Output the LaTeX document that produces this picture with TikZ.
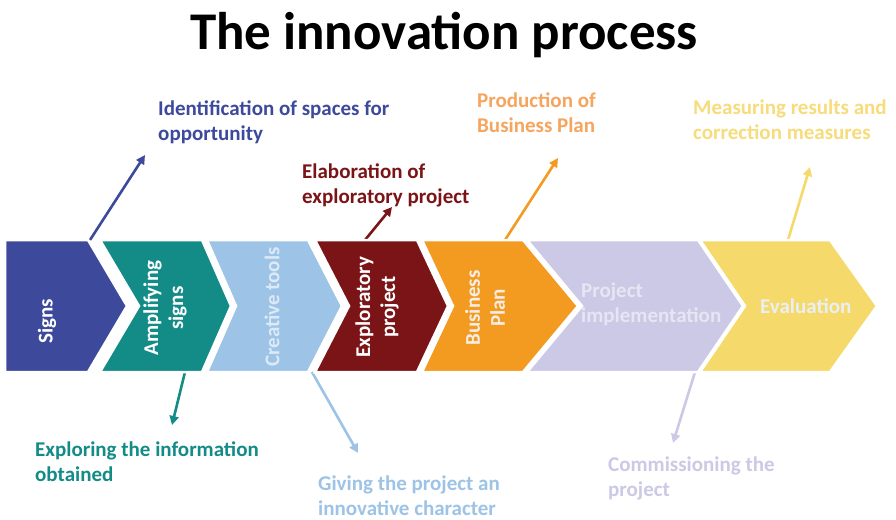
\documentclass[tikz,border=0pt]{standalone}
\usepackage{fontspec}
\setmainfont{Carlito}
\usetikzlibrary{arrows.meta}
\definecolor{cSigns}{HTML}{3D4A9C}
\definecolor{cAmp}{HTML}{138B87}
\definecolor{cCre}{HTML}{9DC3E6}
\definecolor{cExp}{HTML}{7B1416}
\definecolor{cBus}{HTML}{F39A21}
\definecolor{cImp}{HTML}{CBC9E5}
\definecolor{cEva}{HTML}{F5DA6B}
\definecolor{tBus}{HTML}{F5A55E}
\definecolor{tEva}{HTML}{F7DC7C}
\definecolor{tCre}{HTML}{DCE9F6}
\definecolor{tBusIn}{HTML}{F6EDE4}
\definecolor{tImp}{HTML}{E4E7F3}
\definecolor{tEvaIn}{HTML}{EAEFF3}
\newcommand\mychev[5]{%
  \fill[#1, draw=white, line width=2.5pt, line join=miter]
    (#2,240) -- (#3,240) -- (#4,306) -- (#3,372) -- (#2,372) -- (#5,306) -- cycle;}
\tikzset{
  lbl/.style={font=\fontsize{21}{25}\selectfont\bfseries, align=left, inner sep=0pt, anchor=base west},
  vtxt/.style={font=\fontsize{21}{25}\selectfont\bfseries, align=center, rotate=90, inner sep=0pt},
  htxt/.style={font=\fontsize{21}{25}\selectfont\bfseries, align=left, inner sep=0pt, anchor=base west},
  arr/.style={line width=2.6pt, -{Triangle[length=9pt,width=9pt]}}
}
\begin{document}
\begin{tikzpicture}[x=1pt,y=-1pt]
\useasboundingbox (0,0) rectangle (896,519);
\fill[white] (0,0) rectangle (896,519);
% title
\node[font=\fontsize{53}{60}\selectfont\bfseries, anchor=base, inner sep=0pt] (title) at (444,50) {The innovation process};
% arrow coordinates
\coordinate (a1s) at (90,240);  \coordinate (a1e) at (145,155);
\coordinate (a2s) at (365,240); \coordinate (a2e) at (392,207);
\coordinate (a3s) at (505,240); \coordinate (a3e) at (558,158);
\coordinate (a4s) at (788,240); \coordinate (a4e) at (810,167);
\coordinate (b1s) at (185,372); \coordinate (b1e) at (172,425);
\coordinate (b2s) at (312,372); \coordinate (b2e) at (358,453);
\coordinate (b3s) at (695,372); \coordinate (b3e) at (673,443);
\draw[arr, cSigns] (a1s) -- (a1e);
\draw[arr, cExp] (a2s) -- (a2e);
\draw[arr, cBus] (a3s) -- (a3e);
\draw[arr, cEva] (a4s) -- (a4e);
\draw[arr, cAmp] (b1s) -- (b1e);
\draw[arr, cCre] (b2s) -- (b2e);
\draw[arr, cImp] (b3s) -- (b3e);
% chevrons
\mychev{cSigns}{5}{88}{127}{5}
\mychev{cAmp}{100}{202}{231}{139}
\mychev{cCre}{207}{308}{342}{236}
\mychev{cExp}{315}{417}{448}{349}
\mychev{cBus}{422}{523}{578}{453}
\mychev{cImp}{527}{698}{743}{582}
\mychev{cEva}{700}{830}{877}{745}
% chevron texts
\node[vtxt, text=white] (t1) at (47,321) {Signs};
\node[vtxt, text=white] (t2) at (165,308) {Amplifying\\signs};
\node[vtxt, text=tCre] (t3) at (272,307) {Creative tools};
\node[vtxt, text=white] (t4) at (377,307) {Exploratory\\project};
\node[vtxt, text=tBusIn] (t5) at (485,308) {Business\\Plan};
\node[htxt, text=tImp] (t6) at (581,322) {Project\\implementation};
\node[htxt, text=tEvaIn] (t7) at (760,313) {Evaluation};
% labels (anchor = baseline of last line)
\node[lbl, text=cSigns] (l1) at (158,140) {Identification of spaces for\\opportunity};
\node[lbl, text=cExp] (l2) at (302,203) {Elaboration of\\exploratory project};
\node[lbl, text=tBus] (l3) at (477,132) {Production of\\Business Plan};
\node[lbl, text=tEva] (l4) at (693,139) {Measuring results and\\correction measures};
\node[lbl, text=cAmp] (l5) at (35,481) {Exploring the information\\obtained};
\node[lbl, text=cCre] (l6) at (318,515) {Giving the project an\\innovative character};
\node[lbl, text=cImp] (l7) at (608,496) {Commissioning the\\project};
\end{tikzpicture}
\end{document}
